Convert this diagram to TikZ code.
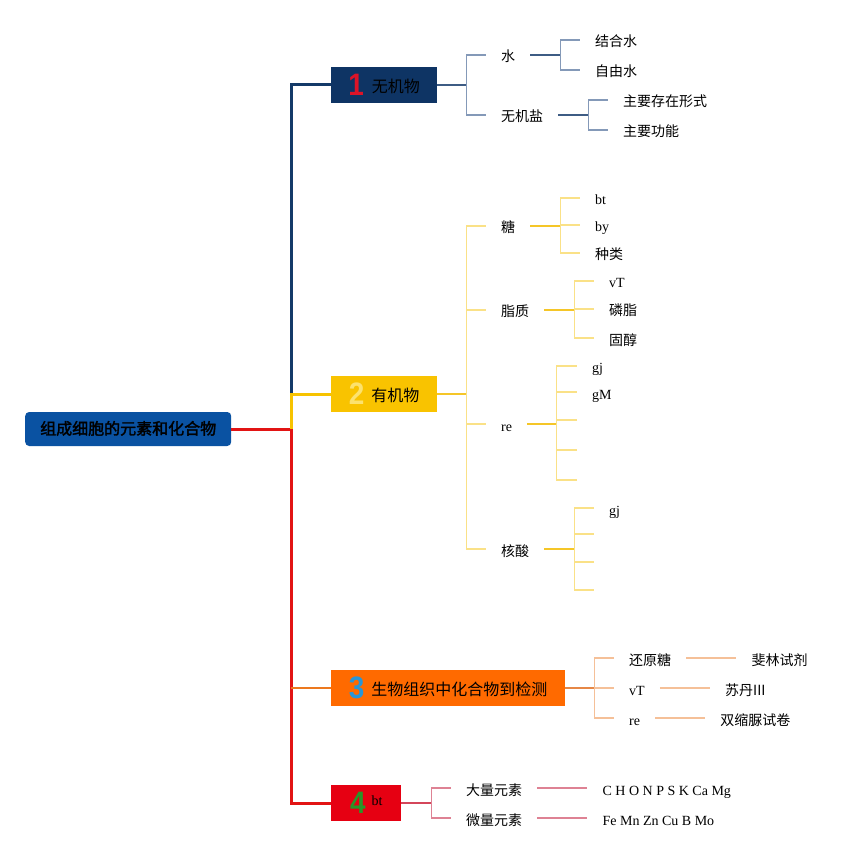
\documentclass[tikz,border=0pt]{standalone}
\usepackage{fontspec}
\usetikzlibrary{positioning}
\setmainfont{Liberation Serif}
\newfontfamily\cjk{Noto Sans CJK SC}[AutoFakeBold=2]
\newfontfamily\numfont{Liberation Sans}
\newcommand\bignum[2]{\raisebox{-2.5pt}{\numfont\bfseries\color{#1}\fontsize{31}{31}\selectfont\scalebox{0.9}[1]{#2}}}

\definecolor{rootBlue}{RGB}{10,82,162}
\definecolor{navyBox}{RGB}{14,52,100}
\definecolor{navyLine}{RGB}{20,58,104}
\definecolor{navyMid}{RGB}{62,92,132}
\definecolor{navyLite}{RGB}{132,153,184}
\definecolor{yelBox}{RGB}{249,195,0}
\definecolor{yelNum}{RGB}{252,226,110}
\definecolor{yelLine}{RGB}{247,195,0}
\definecolor{yelMid}{RGB}{245,198,40}
\definecolor{yelLite}{RGB}{250,225,135}
\definecolor{orgBox}{RGB}{255,106,0}
\definecolor{orgNum}{RGB}{40,150,215}
\definecolor{orgLine}{RGB}{236,120,30}
\definecolor{orgMid}{RGB}{230,135,70}
\definecolor{orgLite}{RGB}{245,192,152}
\definecolor{redBox}{RGB}{230,0,18}
\definecolor{redNum}{RGB}{40,150,40}
\definecolor{redLine}{RGB}{226,20,20}
\definecolor{redMid}{RGB}{212,70,90}
\definecolor{redLite}{RGB}{222,130,148}
\definecolor{numRed}{RGB}{220,20,40}

\begin{document}
\begin{tikzpicture}[x=1pt,y=-1pt,
    topic/.style={rectangle,anchor=west,minimum height=36pt,inner sep=0pt,text height=17pt,text depth=1.6pt,font=\cjk\fontsize{16}{18}\selectfont},
    item/.style={anchor=west,inner xsep=15pt,inner ysep=1pt,text height=15pt,text depth=1pt,font=\cjk\fontsize{14}{16}\selectfont},
    word/.style={item,font=\fontsize{14}{16}\selectfont},
    trunk/.style={line width=3pt},
    midline/.style={line width=2pt},
    liteline/.style={line width=1.5pt}]
    \useasboundingbox (0,0) rectangle (867,858);

    \node[topic,fill=rootBlue,rounded corners=4pt,minimum width=206pt,minimum height=34pt,text height=13pt,text depth=2pt,font=\cjk\bfseries\fontsize{16}{18}\selectfont] (root) at (25,429) {组成细胞的元素和化合物};
    \node[topic,fill=navyBox,minimum width=106pt] (wuji) at (331,85) {\bignum{numRed}{1}\hspace{8pt}无机物};
    \node[topic,fill=yelBox,minimum width=106pt] (youji) at (331,394) {\bignum{yelNum}{2}\hspace{7pt}有机物};
    \node[topic,fill=orgBox,minimum width=234pt] (jiance) at (331,688) {\bignum{orgNum}{3}\hspace{7pt}生物组织中化合物到检测};
    \node[topic,fill=redBox,minimum width=70pt] (yuansu) at (331,803) {\bignum{redNum}{4}\hspace{6pt}\raisebox{5pt}{\rmfamily\fontsize{14}{16}\selectfont bt}};

    % trunk
    \coordinate (hub) at (291,429);
    \draw[trunk,redLine] (root.east) -- (hub) |- (yuansu.west);
    \draw[trunk,navyLine] (youji.west -| hub) |- (wuji.west);
    \draw[trunk,yelLine] (hub) |- (youji.west);
    \draw[midline,orgLine] (jiance.west -| hub) -- (jiance.west);

    % 1 无机物
    \node[item] (shui) at (486,55) {水};
    \node[item] (yan) at (486,115) {无机盐};
    \node[item] (jiehe) at (580,40) {结合水};
    \node[item] (ziyou) at (580,70) {自由水};
    \node[item] (cunzai) at (608,100) {主要存在形式};
    \node[item] (gongneng) at (608,130) {主要功能};
    \draw[midline,navyMid] (wuji.east) -- ++(29,0) coordinate (wujiB);
    \draw[midline,navyMid] (shui.east) -- ++(30,0) coordinate (shuiB);
    \draw[midline,navyMid] (yan.east) -- ++(30,0) coordinate (yanB);
    \foreach \c in {shui,yan} \draw[liteline,navyLite] (wujiB) |- (\c.west);
    \foreach \c in {jiehe,ziyou} \draw[liteline,navyLite] (shuiB) |- (\c.west);
    \foreach \c in {cunzai,gongneng} \draw[liteline,navyLite] (yanB) |- (\c.west);

    % 2 有机物
    \node[item] (tang) at (486,226) {糖};
    \node[item] (zhi) at (486,310) {脂质};
    \node[word] (re) at (486,424) {re};
    \node[item] (hesuan) at (486,549) {核酸};
    \node[word] (tangA) at (580,198) {bt};
    \node[word] (tangB) at (580,225) {by};
    \node[item] (zhonglei) at (580,253) {种类};
    \node[word] (zhiA) at (594,281) {vT};
    \node[item] (linzhi) at (594,309) {磷脂};
    \node[item] (guchun) at (594,338) {固醇};
    \node[word] (reA) at (577,366) {gj};
    \node[word] (reB) at (577,392) {gM};
    \coordinate (reC) at (577,420);
    \coordinate (reD) at (577,450);
    \coordinate (reE) at (577,480);
    \node[word] (heA) at (594,508) {gj};
    \coordinate (heB) at (594,534);
    \coordinate (heC) at (594,562);
    \coordinate (heD) at (594,590);
    \draw[midline,yelMid] (youji.east) -- ++(29,0) coordinate (youjiB);
    \draw[midline,yelMid] (tang.east) -- ++(30,0) coordinate (tangJ);
    \draw[midline,yelMid] (zhi.east) -- ++(30,0) coordinate (zhiJ);
    \draw[midline,yelMid] (re.east) -- ++(29,0) coordinate (reJ);
    \draw[midline,yelMid] (hesuan.east) -- ++(30,0) coordinate (heJ);
    \foreach \c in {tang,zhi,re,hesuan} \draw[liteline,yelLite] (youjiB) |- (\c.west);
    \foreach \c in {tangA,tangB,zhonglei} \draw[liteline,yelLite] (tangJ) |- (\c.west);
    \foreach \c in {zhiA,linzhi,guchun} \draw[liteline,yelLite] (zhiJ) |- (\c.west);
    \foreach \c in {reA.west,reB.west,reC,reD,reE} \draw[liteline,yelLite] (reJ) |- (\c);
    \foreach \c in {heA.west,heB,heC,heD} \draw[liteline,yelLite] (heJ) |- (\c);

    % 3 检测
    \node[item] (huan) at (614,658) {还原糖};
    \node[word] (jcA) at (614,688) {vT};
    \node[word] (jcB) at (614,718) {re};
    \node[item,right=50pt of huan] (feilin) {斐林试剂};
    \node[item,right=50pt of jcA] (sudan) {苏丹III};
    \node[item,right=50pt of jcB] (shuangsuo) {双缩脲试卷};
    \draw[midline,orgMid] (jiance.east) -- ++(29,0) coordinate (jianceB);
    \foreach \c in {huan,jcA,jcB} \draw[liteline,orgLite] (jianceB) |- (\c.west);
    \draw[liteline,orgLite] (huan) -- (feilin);
    \draw[liteline,orgLite] (jcA) -- (sudan);
    \draw[liteline,orgLite] (jcB) -- (shuangsuo);

    % 4 元素
    \node[item] (daliang) at (451,788) {大量元素};
    \node[item] (weiliang) at (451,818) {微量元素};
    \node[word,right=50pt of daliang] (dalist) {C H O N P S K Ca Mg};
    \node[word,right=50pt of weiliang] (weilist) {Fe Mn Zn Cu B Mo};
    \draw[midline,redMid] (yuansu.east) -- ++(30,0) coordinate (yuansuB);
    \foreach \c in {daliang,weiliang} \draw[liteline,redLite] (yuansuB) |- (\c.west);
    \draw[liteline,redLite] (daliang) -- (dalist);
    \draw[liteline,redLite] (weiliang) -- (weilist);
\end{tikzpicture}
\end{document}
